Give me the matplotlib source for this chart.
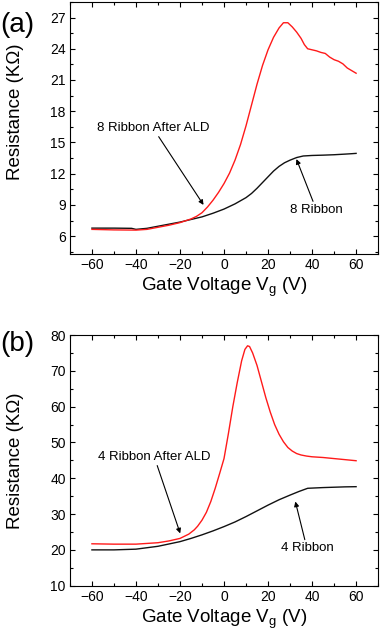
import matplotlib

matplotlib.use("Agg")
import matplotlib.pyplot as plt  # noqa: E402
from matplotlib.ticker import MultipleLocator  # noqa: E402

plt.rcParams.update({
    "font.family": ["Liberation Sans", "DejaVu Sans"],
    "font.size": 10,
    "axes.linewidth": 0.8,
    "mathtext.default": "regular",
})

# ---- panel (a): 8 ribbon ----
vg_a_black = [-60, -50, -42, -40, -35, -30, -25, -20, -15, -10, -5, 0, 5, 10,
              12.5, 15, 17.5, 20, 22.5, 25, 27.5, 30, 33, 36, 40, 45, 50, 55,
              58, 60]
r_a_black = [6.77, 6.77, 6.75, 6.65, 6.75, 6.95, 7.15, 7.35, 7.6, 7.85, 8.2,
             8.6, 9.1, 9.7, 10.1, 10.6, 11.15, 11.7, 12.25, 12.7, 13.05, 13.3,
             13.55, 13.7, 13.75, 13.78, 13.82, 13.88, 13.92, 13.95]

vg_a_red = [-60, -50, -40, -35, -30, -25, -20, -15, -12.5, -10, -7.5, -5,
            -2.5, 0, 2.5, 5, 7.5, 10, 12.5, 15, 17.5, 20, 22.5, 25, 27, 29,
            31, 33, 35, 36.5, 38, 40, 42, 44, 46, 48, 50, 52, 54, 56, 58, 60]
r_a_red = [6.65, 6.6, 6.58, 6.65, 6.85, 7.05, 7.3, 7.65, 7.9, 8.25, 8.8, 9.45,
           10.2, 11.05, 12.05, 13.3, 14.8, 16.6, 18.6, 20.6, 22.4, 23.9, 25.1,
           26.0, 26.5, 26.5, 26.1, 25.6, 25.0, 24.4, 24.0, 23.9, 23.8, 23.65,
           23.55, 23.2, 22.95, 22.8, 22.55, 22.15, 21.9, 21.65]

# ---- panel (b): 4 ribbon ----
vg_b_black = [-60, -50, -40, -30, -20, -15, -10, -5, 0, 5, 10, 15, 20, 25,
              30, 34, 38, 45, 50, 55, 60]
r_b_black = [20.0, 20.0, 20.2, 21.0, 22.3, 23.2, 24.2, 25.3, 26.5, 27.8, 29.3,
             30.9, 32.5, 34.0, 35.3, 36.3, 37.2, 37.4, 37.5, 37.6, 37.65]

vg_b_red = [-60, -50, -40, -30, -25, -20, -16, -13.5, -12, -10, -8, -6, -4,
            -2, 0, 2, 4, 6, 8, 9.5, 10.7, 11.6, 13, 15, 17, 19, 21, 23, 25, 27,
            29, 31, 33, 35, 37.5, 40, 45, 50, 55, 60]
r_b_red = [21.7, 21.6, 21.6, 22.0, 22.5, 23.2, 24.4, 25.6, 26.6, 28.3, 30.5,
           33.5, 37.2, 41.3, 45.5, 52.5, 60.0, 66.7, 72.8, 76.0, 77.0, 76.8,
           75.0, 71.5, 67.0, 62.5, 58.5, 55.0, 52.3, 50.2, 48.6, 47.6, 46.9,
           46.5, 46.2, 46.0, 45.8, 45.5, 45.2, 44.9]

RED = "#ff1a1a"
BLACK = "#111111"

fig = plt.figure(figsize=(3.8, 6.41), dpi=100)
ax_a = fig.add_axes([0.184, 0.604, 0.811, 0.393])
ax_b = fig.add_axes([0.184, 0.0863, 0.811, 0.391])


def style_axis(ax, ylim, ymajor, yminor):
    ax.set_xlim(-70, 70)
    ax.set_ylim(*ylim)
    ax.xaxis.set_major_locator(MultipleLocator(20))
    ax.xaxis.set_minor_locator(MultipleLocator(10))
    ax.yaxis.set_major_locator(MultipleLocator(ymajor))
    ax.yaxis.set_minor_locator(MultipleLocator(yminor))
    ax.tick_params(which="both", direction="in", top=True, right=True,
                   width=0.8, labelsize=10, pad=3)
    ax.tick_params(which="major", length=3.5)
    ax.tick_params(which="minor", length=2)
    ax.set_xlabel("Gate Voltage V$_\\mathregular{g}$ (V)", fontsize=13.5,
                  labelpad=3)
    ax.set_ylabel("Resistance (K\u03a9)", fontsize=13.5, labelpad=4)


arrow = dict(arrowstyle="-|>", color="black", lw=0.8,
             mutation_scale=7, shrinkA=0, shrinkB=0)

# panel (a)
ax_a.plot(vg_a_black, r_a_black, color=BLACK, lw=1.0)
ax_a.plot(vg_a_red, r_a_red, color=RED, lw=1.0)
style_axis(ax_a, (4.3, 28.5), 3, 1.5)
ax_a.annotate("8 Ribbon After ALD", xy=(-9.3, 9.0), xytext=(-32.3, 16.4),
              ha="center", va="center", fontsize=9.5, arrowprops=arrow)
ax_a.annotate("8 Ribbon", xy=(32.9, 13.4), xytext=(42, 8.5),
              ha="center", va="center", fontsize=9.5, arrowprops=arrow)
ax_a.yaxis.set_label_coords(-0.15, 0.565)
fig.text(0.046, 1 - 24.5 / 641, "(a)", fontsize=20, ha="center", va="center")

# panel (b)
ax_b.plot(vg_b_black, r_b_black, color=BLACK, lw=1.0)
ax_b.plot(vg_b_red, r_b_red, color=RED, lw=1.0)
style_axis(ax_b, (10, 80), 10, 5)
ax_b.annotate("4 Ribbon After ALD", xy=(-19.9, 24.6), xytext=(-31.7, 46.0),
              ha="center", va="center", fontsize=9.5, arrowprops=arrow)
ax_b.annotate("4 Ribbon", xy=(32.4, 33.5), xytext=(37.7, 20.4),
              ha="center", va="center", fontsize=9.5, arrowprops=arrow)
ax_b.yaxis.set_label_coords(-0.15, 0.5)
fig.text(0.046, 1 - 344.5 / 641, "(b)", fontsize=20, ha="center",
         va="center")

fig.savefig("out.png", dpi=100)
